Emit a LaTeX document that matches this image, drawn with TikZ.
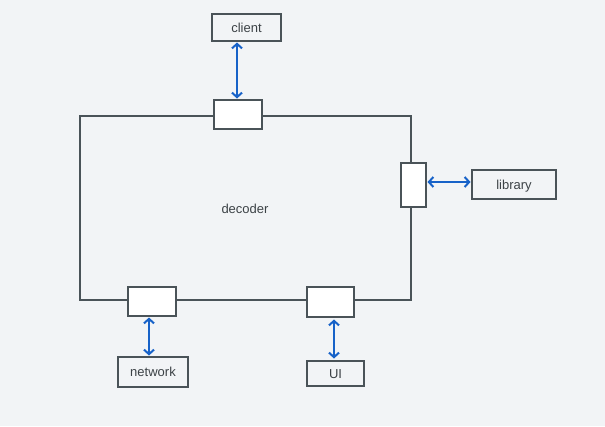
\documentclass[tikz,border=0pt]{standalone}
\usepackage{fontspec}
\setmainfont{Liberation Sans}
\usetikzlibrary{arrows.meta}
\definecolor{bg}{HTML}{F2F4F6}
\definecolor{edge}{HTML}{4A5358}
\definecolor{arr}{HTML}{1762C8}
\definecolor{txt}{HTML}{3C4246}
\begin{document}
\begin{tikzpicture}[x=1pt,y=-1pt,
  lbl/.style={text=txt,font=\fontsize{13}{15}\selectfont,text height=9.5pt,text depth=0pt},
  box/.style={draw=edge,line width=2pt,fill=bg,inner sep=0pt,lbl},
  port/.style={draw=edge,line width=2pt,fill=white,inner sep=0pt},
  link/.style={draw=arr,line width=2pt,{Straight Barb[length=4.5pt,width=10pt]}-{Straight Barb[length=4.5pt,width=10pt]},shorten <=1.5pt,shorten >=1.5pt}]
\fill[bg] (0,0) rectangle (605,426);
\useasboundingbox (0,0) rectangle (605,426);
\node[draw=edge,line width=2pt,minimum width=331pt,minimum height=184pt,inner sep=0pt] (frame) at (245.5,208) {};
\node[lbl] (dec) at (245,209) {decoder};
\node[port,minimum width=48pt,minimum height=29pt] (ptop) at (238,114.5) {};
\node[port,minimum width=25pt,minimum height=44pt] (pright) at (413.5,185) {};
\node[port,minimum width=48pt,minimum height=29pt] (pnet) at (152,301.5) {};
\node[port,minimum width=47pt,minimum height=30pt] (pui) at (330.5,302) {};
\node[box,minimum width=69pt,minimum height=27pt] (client) at (246.5,27.5) {client};
\node[box,minimum width=84pt,minimum height=29pt] (library) at (514,184.5) {library};
\node[box,minimum width=70pt,minimum height=30pt] (network) at (153,372) {network};
\node[box,minimum width=57pt,minimum height=25pt] (ui) at (335.5,373.5) {UI};
\coordinate (ctop) at (237,100);
\coordinate (cclient) at (237,41);
\draw[link] (cclient) -- (ctop);
\coordinate (cr1) at (426,182);
\coordinate (cr2) at (472,182);
\draw[link] (cr1) -- (cr2);
\coordinate (cn1) at (149,316);
\coordinate (cn2) at (149,357);
\draw[link] (cn1) -- (cn2);
\coordinate (cu1) at (334,318);
\coordinate (cu2) at (334,360);
\draw[link] (cu1) -- (cu2);
\end{tikzpicture}
\end{document}
